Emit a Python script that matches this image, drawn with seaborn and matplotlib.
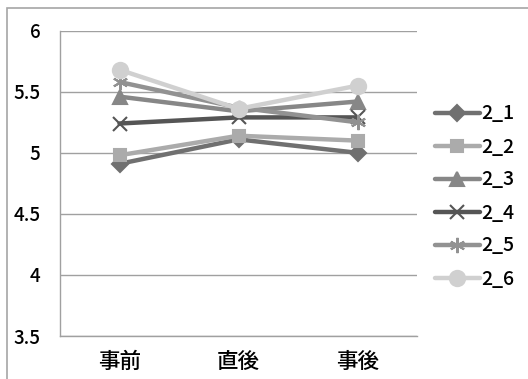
import seaborn as sns
import pandas as pd
import matplotlib.pyplot as plt
from matplotlib.patches import Rectangle

timing = ["事前", "直後", "事後"]
items = ["2_1", "2_2", "2_3", "2_4", "2_5", "2_6"]
v2_1 = [4.91, 5.11, 5.00]
v2_2 = [4.98, 5.14, 5.10]
v2_3 = [5.46, 5.34, 5.42]
v2_4 = [5.24, 5.29, 5.29]
v2_5 = [5.58, 5.37, 5.25]
v2_6 = [5.68, 5.36, 5.55]

rows = []
for name, vals in zip(items, [v2_1, v2_2, v2_3, v2_4, v2_5, v2_6]):
    for i, (t, v) in enumerate(zip(timing, vals)):
        rows.append({"item": name, "pos": i, "time": t, "score": v})
df = pd.DataFrame(rows)

sns.set_theme(style="white")
plt.rcParams['font.family'] = ['Noto Sans CJK JP', 'DejaVu Sans']
plt.rcParams['text.color'] = 'black'
plt.rcParams['xtick.labelcolor'] = 'black'
plt.rcParams['ytick.labelcolor'] = 'black'

colors = ["#707070", "#ababab", "#878787", "#555555", "#929292", "#d0d0d0"]
markers = ["D", "s", "^", "x", (6, 2, 0), "o"]
msizes = [8, 9, 10, 10, 11, 11]

fig = plt.figure(figsize=(5.28, 3.79), dpi=100)
ax = fig.add_axes([60 / 528, 1 - 336 / 379, 357 / 528, 305.3 / 379])

# outer chart border
fig.patches.append(Rectangle((7 / 528, -0.1), 1.2, 1 - 8 / 379 + 0.1, transform=fig.transFigure,
                             fill=False, edgecolor="#a6a6a6", linewidth=1.2))

for name, c, m, ms in zip(items, colors, markers, msizes):
    sns.lineplot(data=df[df["item"] == name], x="pos", y="score", color=c,
                 marker=m, markersize=ms, markeredgewidth=1.5, markeredgecolor=c,
                 linewidth=3.2, label=name, ax=ax)

ax.set_xlim(-0.5, 2.5)
ax.set_ylim(3.5, 6)
ax.set_yticks([3.5, 4, 4.5, 5, 5.5, 6])
ax.set_yticklabels(["3.5", "4", "4.5", "5", "5.5", "6"], fontsize=13.5, fontweight="medium")
ax.set_xticks([0, 1, 2])
ax.set_xticklabels(timing, fontsize=15.5, fontweight="medium")
ax.set_xticks([-0.5, 0.5, 1.5, 2.5], minor=True)
ax.tick_params(axis="x", which="major", length=0, pad=11)
ax.tick_params(axis="x", which="minor", length=4, color="#a0a0a0", direction="out", width=1)
ax.tick_params(axis="y", length=6, color="#a0a0a0", direction="out", width=1, pad=8)
ax.yaxis.grid(True, color="#a0a0a0", linewidth=1)
ax.set_axisbelow(True)
for s in ["top", "right"]:
    ax.spines[s].set_visible(False)
for s in ["left", "bottom"]:
    ax.spines[s].set_color("#a0a0a0")
    ax.spines[s].set_linewidth(1)
ax.set_xlabel("")
ax.set_ylabel("")

handles, labels = ax.get_legend_handles_labels()
leg = ax.legend(handles, labels, loc="center left", bbox_to_anchor=(435 / 528, 1 - 196.5 / 379),
                bbox_transform=fig.transFigure, frameon=False, fontsize=14, handlelength=2.3,
                handletextpad=0.1, labelspacing=0.72, borderaxespad=0, borderpad=0)
for t in leg.get_texts():
    t.set_fontweight("medium")

plt.savefig("out.png", dpi=100)
